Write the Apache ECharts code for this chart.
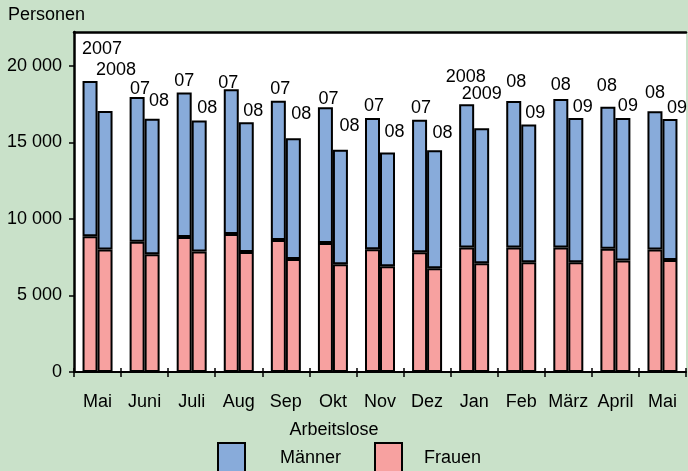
<!DOCTYPE html>
<html>
<head>
<meta charset="utf-8">
<script src="https://cdn.jsdelivr.net/npm/echarts@6/dist/echarts.min.js"></script>
<style>
html,body{margin:0;padding:0;background:#c9e1c9;}
#chart{width:688px;height:471px;}
</style>
</head>
<body>
<div id="chart"></div>
<script>
// Categories (months May 2007/2008 .. May 2008/2009)
const months = ['Mai','Juni','Juli','Aug','Sep','Okt','Nov','Dez','Jan','Feb','März','April','Mai'];
// Year labels above the two bars of each month
const yearLabelsA = ['2007','07','07','07','07','07','07','07','2008','08','08','08','08'];
const yearLabelsB = ['2008','08','08','08','08','08','08','08','2009','09','09','09','09'];
// First (earlier) year bars
const frauenA = [8870, 8520, 8820, 9020, 8630, 8430, 8020, 7820, 8140, 8130, 8130, 8060, 8000];
const maennerA = [10150, 9450, 9440, 9460, 9100, 8870, 8580, 8670, 9360, 9580, 9710, 9280, 9040];
// Second (later) year bars
const frauenB = [8000, 7690, 7870, 7840, 7390, 7040, 6910, 6780, 7100, 7170, 7170, 7280, 7320];
const maennerB = [9060, 8870, 8560, 8480, 7880, 7490, 7430, 7710, 8830, 9000, 9430, 9320, 9220];
// Y tick values
const yTicks = [0, 5000, 10000, 15000, 20000];

// Label nudges (styling only): horizontal shift and lift above bar top, px
const labelDxA = [12, 3, 0, -3, 2, 3, 1.5, 1.5, -1, 2.5, 0, -1, 0];
const labelLiftA = [26, 2, 6, 0, 6, 2, 6, 6, 21, 13, 8, 15, 12];
const labelDxB = [11, 7, 8, 7, 8, 9, 7, 8, 0, 6.5, 7, 5, 7];
const labelLiftB = [35, 12, 7, 5, 18, 18, 15, 11, 28, 6, 5, 6, 5];

const BLUE = '#88abda', PINK = '#f7a1a0';
const FONT = "'Liberation Sans', Arial, sans-serif";

function fmt(v){ return String(v).replace(/\B(?=(\d{3})+(?!\d))/g, ' '); }

function topData(vals, labels, dx, lift){
  return vals.map((v, i) => ({
    value: v,
    label: { formatter: labels[i], offset: [dx[i], -(lift[i] - 3)] }
  }));
}

const barStyle = c => ({ color: c, borderColor: '#000', borderWidth: 2 });
const topLabel = { show: true, position: 'top', distance: 0, color: '#000', fontSize: 18, fontFamily: FONT };

const chart = echarts.init(document.getElementById('chart'), null, {renderer: 'canvas'});
chart.setOption({
  backgroundColor: '#c9e1c9',
  animation: false,
  textStyle: { fontFamily: FONT },
  title: [
    { text: 'Personen', left: 8, top: 6, padding: 0, textStyle: { fontSize: 18, fontWeight: 'normal', color: '#000', fontFamily: FONT } },
    { text: 'Arbeitslose', left: 334, textAlign: 'center', top: 421, padding: 0, textStyle: { fontSize: 18, fontWeight: 'normal', color: '#000', fontFamily: FONT } }
  ],
  legend: [
    { data: ['Männer'], left: 217, top: 442, padding: 0, itemWidth: 27, itemHeight: 30, icon: 'rect',
      itemStyle: { borderColor: '#000', borderWidth: 2 },
      textStyle: { fontSize: 18, color: '#000', fontFamily: FONT, padding: [0, 0, 0, 30] }, selectedMode: false },
    { data: ['Frauen'], left: 374, top: 442, padding: 0, itemWidth: 27, itemHeight: 30, icon: 'rect',
      itemStyle: { borderColor: '#000', borderWidth: 2 },
      textStyle: { fontSize: 18, color: '#000', fontFamily: FONT, padding: [0, 0, 0, 17] }, selectedMode: false }
  ],
  grid: { left: 74, right: 2, top: 32, bottom: 99, show: true, backgroundColor: '#fff', borderWidth: 0 },
  xAxis: [
    { type: 'category', data: months, position: 'bottom',
      axisLine: { show: true, lineStyle: { color: '#000', width: 2 } },
      axisTick: { show: true, length: 5, lineStyle: { color: '#000', width: 1.5 } },
      axisLabel: { color: '#000', fontSize: 18, margin: 21, fontFamily: FONT, interval: 0 } },
    { type: 'category', data: months, position: 'bottom',
      axisLine: { show: false },
      axisTick: { show: true, inside: true, length: 4, lineStyle: { color: '#000', width: 1.5 } },
      axisLabel: { show: false } },
    { type: 'category', data: months, position: 'top',
      axisLine: { show: true, lineStyle: { color: '#000', width: 2.5 } },
      axisTick: { show: false }, axisLabel: { show: false } }
  ],
  yAxis: {
    type: 'value', min: 0, max: 22222,
    axisLine: { show: true, lineStyle: { color: '#000', width: 2.5 } },
    axisTick: { show: true, length: 5, customValues: yTicks, lineStyle: { color: '#000', width: 1.5 } },
    axisLabel: { color: '#000', fontSize: 18, margin: 12, fontFamily: FONT, customValues: yTicks, formatter: fmt },
    splitLine: { show: false }
  },
  series: [
    { name: 'Frauen', type: 'bar', stack: 'a', xAxisIndex: 0, data: frauenA, barWidth: 15, barGap: '0%', itemStyle: barStyle(PINK) },
    { name: 'Männer', type: 'bar', stack: 'a', xAxisIndex: 0, data: topData(maennerA, yearLabelsA, labelDxA, labelLiftA), barWidth: 15, barGap: '0%', itemStyle: barStyle(BLUE), label: topLabel },
    { name: 'Frauen', type: 'bar', stack: 'b', xAxisIndex: 0, data: frauenB, barWidth: 15, barGap: '0%', itemStyle: barStyle(PINK) },
    { name: 'Männer', type: 'bar', stack: 'b', xAxisIndex: 0, data: topData(maennerB, yearLabelsB, labelDxB, labelLiftB), barWidth: 15, barGap: '0%', itemStyle: barStyle(BLUE), label: topLabel }
  ]
});
</script>
</body>
</html>
